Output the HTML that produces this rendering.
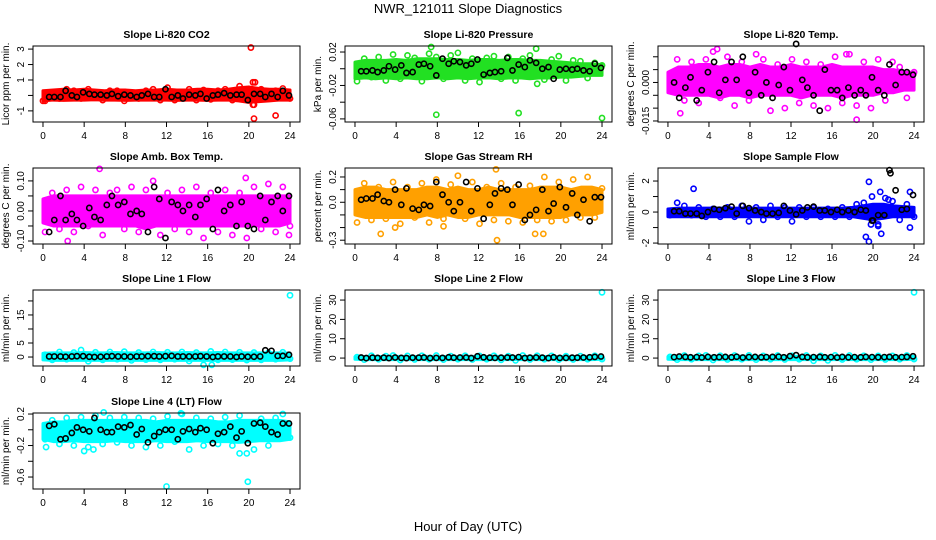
<!DOCTYPE html>
<html><head><meta charset="utf-8"><style>
body{margin:0;background:#fff;}
svg{display:block;font-family:"Liberation Sans",Arial,sans-serif;}
</style></head><body>
<svg id="chart" width="936" height="540" viewBox="0 0 936 540">
<rect width="936" height="540" fill="#fff"/>
<text x="468" y="13" font-size="13" text-anchor="middle">NWR_121011  Slope Diagnostics</text>
<text x="468" y="531" font-size="13" text-anchor="middle">Hour of Day (UTC)</text>
</svg>
<script>
const xTicks=[0,4,8,12,16,20,24];
const bandH=[0,1,2,3,4,5,6,7,8,9,10,11,12,13,14,15,16,17,18,19,20,21,22,23,24];
const colorH=[0.2,0.9,1.6,2.3,3.0,3.7,4.4,5.1,5.8,6.5,7.2,7.9,8.6,9.3,10.0,10.7,11.4,12.1,12.8,13.5,14.2,14.9,15.6,16.3,17.0,17.7,18.4,19.1,19.8,20.5,21.2,21.9,22.6,23.3,24.0];
const blackH=[0.6,1.1,1.7,2.2,2.8,3.3,3.9,4.5,5.0,5.6,6.2,6.7,7.3,7.9,8.5,9.1,9.6,10.2,10.8,11.3,11.9,12.5,13.1,13.6,14.2,14.8,15.3,15.9,16.5,17.0,17.6,18.2,18.8,19.3,19.9,20.5,21.1,21.6,22.2,22.8,23.3,23.9];

// P1 CO2
const co2Lo=[-0.35,-0.3,-0.32,-0.3,-0.3,-0.28,-0.3,-0.3,-0.32,-0.3,-0.3,-0.3,-0.3,-0.32,-0.3,-0.3,-0.32,-0.3,-0.3,-0.35,-0.45,-0.4,-0.35,-0.3,-0.3];
const co2Hi=[0.3,0.35,0.4,0.35,0.4,0.35,0.3,0.35,0.35,0.3,0.35,0.35,0.4,0.35,0.35,0.4,0.4,0.35,0.4,0.5,0.55,0.45,0.4,0.4,0.35];
const co2Pts=[-0.35,0.2,-0.2,0.4,0.3,-0.2,0.4,0.1,-0.3,0.3,0.3,-0.35,0.2,-0.2,0.3,0.4,-0.3,0.5,-0.3,0.2,0.4,-0.3,0.35,-0.25,0.3,0.4,-0.3,0.6,0.4,-0.6,0.4,-0.2,0.3,0.45,-0.2];
const co2Blk=[-0.1,-0.1,-0.1,0.3,0,-0.1,0.2,0.1,0.05,0.05,0,0.1,-0.05,0.05,0,-0.1,0,0.1,-0.1,-0.1,0.4,-0.1,0,-0.2,0.05,0,0.1,-0.2,0,0.05,0.15,0,0.05,0.05,-0.3,0.1,0.1,-0.1,0.1,-0.1,0.3,0];
const co2OutH=[20.2,20.4,20.6,20.5,22.6,20.4,0];
const co2OutV=[3.1,0.85,0.85,-1.5,-1.3,-0.6,-0.35];

// P2 Pressure
const prLo=[-0.012,-0.011,-0.012,-0.011,-0.012,-0.011,-0.012,-0.012,-0.011,-0.012,-0.011,-0.012,-0.011,-0.011,-0.012,-0.011,-0.011,-0.012,-0.011,-0.011,-0.01,-0.01,-0.009,-0.008,-0.008];
const prHi=[0.008,0.01,0.01,0.01,0.011,0.01,0.012,0.012,0.012,0.011,0.011,0.01,0.011,0.011,0.01,0.011,0.011,0.01,0.01,0.009,0.008,0.007,0.006,0.006,0.005];
const prPts=[-0.015,0.012,-0.01,0.014,-0.014,0.017,-0.012,0.016,0.013,-0.015,0.018,0.014,-0.012,0.016,0.019,-0.014,0.012,-0.016,0.013,0.015,-0.012,0.014,-0.014,0.012,0.016,-0.018,-0.013,0.011,0.015,-0.014,0.01,0.009,-0.011,0.007,0.004];
const prBlk=[-0.003,-0.003,-0.002,-0.004,-0.002,0.003,-0.001,0.004,-0.005,-0.004,0.005,0.006,0.003,-0.008,0.012,0.006,0.009,0.008,0.004,0.006,0.011,-0.007,-0.005,-0.004,-0.003,0.013,-0.002,0.005,0.002,0.01,0.007,0.0,0.002,-0.012,-0.001,0.0,-0.001,0.0,-0.002,-0.003,0.006,0.001];
const prOutH=[7.9,15.9,24,7.4,17.6];
const prOutV=[-0.055,-0.053,-0.059,0.026,0.024];

// P3 Li-820 Temp
const tpLo=[-0.004,-0.005,-0.005,-0.005,-0.005,-0.006,-0.005,-0.005,-0.006,-0.005,-0.005,-0.005,-0.005,-0.006,-0.005,-0.005,-0.005,-0.006,-0.005,-0.005,-0.005,-0.004,-0.004,-0.003,-0.003];
const tpHi=[0.004,0.006,0.006,0.007,0.007,0.006,0.007,0.007,0.006,0.007,0.006,0.006,0.007,0.006,0.006,0.006,0.007,0.006,0.006,0.006,0.006,0.005,0.005,0.004,0.004];
const tpPts=[-0.002,0.009,-0.007,0.008,-0.008,0.009,0.012,-0.006,0.01,-0.009,0.008,-0.007,0.011,0.009,-0.011,0.007,-0.01,0.009,-0.008,0.008,-0.009,0.007,-0.01,0.01,-0.008,0.011,-0.009,0.008,-0.01,0.009,-0.007,0.008,0.006,-0.006,0.004];
const tpBlk=[0.0,-0.006,-0.002,0.002,-0.007,-0.003,0.004,0.008,-0.004,0.001,0.008,0.001,0.01,-0.004,0.004,-0.005,0.0,-0.006,-0.001,0.006,-0.003,0.015,0.001,-0.002,-0.005,-0.011,0.005,-0.003,-0.003,-0.006,-0.002,-0.005,-0.003,-0.005,0.002,-0.003,-0.005,0.007,-0.001,0.004,0.004,0.003];
const tpOutH=[18.4,1.2,4.8,17.4];
const tpOutV=[-0.0145,-0.012,0.013,0.011];

// P4 Amb Box Temp
const abLo=[-0.04,-0.05,-0.05,-0.05,-0.05,-0.05,-0.05,-0.05,-0.05,-0.05,-0.06,-0.05,-0.05,-0.05,-0.05,-0.05,-0.05,-0.05,-0.05,-0.05,-0.05,-0.05,-0.05,-0.05,-0.04];
const abHi=[0.04,0.05,0.05,0.05,0.05,0.05,0.05,0.05,0.05,0.05,0.05,0.05,0.05,0.05,0.05,0.05,0.05,0.05,0.05,0.05,0.05,0.05,0.05,0.05,0.05];
const abPts=[-0.07,0.06,-0.06,0.07,-0.07,0.08,-0.05,0.07,-0.08,0.06,0.07,-0.06,0.08,-0.07,0.07,0.1,-0.08,0.06,-0.06,0.07,-0.07,0.08,-0.09,0.06,-0.07,0.07,-0.08,0.06,-0.09,0.08,-0.06,0.09,-0.07,0.08,-0.05];
const abBlk=[-0.07,-0.03,0.05,-0.03,-0.01,-0.03,-0.05,0.01,-0.02,-0.03,0.02,0.05,0.02,0.03,-0.01,0.0,-0.01,-0.07,0.08,0.04,-0.09,0.03,0.02,0.0,0.02,-0.02,0.02,0.04,-0.06,0.07,0.0,0.02,-0.05,0.03,-0.05,-0.06,0.05,-0.03,0.03,0.05,0.0,0.05];
const abOutH=[5.5,2.4,19.7,23.9];
const abOutV=[0.14,-0.1,0.11,-0.08];

// P5 Gas Stream RH
const rhLo=[-0.1,-0.12,-0.12,-0.12,-0.12,-0.12,-0.12,-0.1,-0.12,-0.1,-0.12,-0.12,-0.1,-0.1,-0.1,-0.1,-0.12,-0.12,-0.12,-0.12,-0.12,-0.1,-0.1,-0.1,-0.08];
const rhHi=[0.1,0.12,0.12,0.1,0.1,0.1,0.1,0.12,0.12,0.1,0.12,0.1,0.1,0.12,0.1,0.1,0.1,0.1,0.12,0.12,0.12,0.1,0.12,0.12,0.1];
const rhPts=[-0.16,0.15,-0.14,0.12,-0.13,0.16,-0.17,0.12,-0.12,0.15,-0.16,0.18,-0.13,0.14,0.21,-0.13,0.16,-0.17,0.12,-0.14,0.15,-0.15,0.12,-0.16,0.13,-0.14,0.2,-0.15,0.16,-0.14,0.18,-0.12,0.2,-0.12,0.11];
const rhBlk=[0.02,0.03,0.03,0.06,0.01,0.0,0.1,-0.02,0.11,-0.05,-0.06,-0.02,-0.03,0.16,0.06,0.0,-0.07,0.0,0.16,-0.07,0.11,-0.13,-0.02,0.07,0.11,0.1,-0.02,0.14,-0.14,-0.1,-0.06,0.1,-0.07,-0.01,0.12,-0.04,0.07,-0.1,0.02,-0.15,0.04,0.04];
const rhOutH=[13.7,13.8,2.5,17.5,18.3,3.9,8.6];
const rhOutV=[0.26,-0.3,-0.25,-0.25,-0.25,-0.2,-0.19];

// P6 Sample Flow
const sfLo=[-0.3,-0.3,-0.3,-0.3,-0.3,-0.3,-0.3,-0.3,-0.3,-0.3,-0.3,-0.3,-0.3,-0.3,-0.3,-0.3,-0.3,-0.3,-0.3,-0.4,-0.5,-0.4,-0.3,-0.3,-0.3];
const sfHi=[0.2,0.25,0.25,0.25,0.25,0.25,0.25,0.25,0.25,0.25,0.25,0.25,0.25,0.25,0.25,0.25,0.25,0.25,0.3,0.4,0.5,0.5,0.4,0.35,0.3];
const sfPts=[-0.2,0.6,0.4,-0.2,0.3,-0.3,0.2,-0.3,0.3,-0.3,0.4,-0.6,0.3,-0.5,0.4,-0.3,0.3,-0.6,0.3,-0.3,0.3,-0.3,0.2,-0.3,0.3,-0.3,0.5,0.6,-0.8,-0.8,0.9,0.7,-0.5,0.5,-0.3];
const sfBlk=[0.05,0.05,-0.1,-0.1,-0.1,-0.25,0.0,0.2,0.15,0.25,0.35,-0.1,0.4,0.25,0.1,0.0,-0.1,-0.1,-0.05,0.4,0.1,-0.15,0.1,0.3,0.35,0.1,0.1,0.0,0.15,0.0,0.1,0.0,0.15,0.1,-0.55,-0.2,-0.2,2.7,1.4,0.15,0.2,1.1];
const sfOutH=[2.5,19.6,19.3,19.6,20.8,20.5,20.7,23.6,23.6,19.9,21.5,21.7,20.0];
const sfOutV=[1.5,1.95,-1.6,-1.9,-1.4,-0.9,1.3,1.3,-1.0,1.0,0.8,2.5,-0.55];

// P7 Line 1 Flow
const l1Lo=[-1.0,-1.2,-1.2,-1.2,-1.2,-1.2,-1.2,-1.2,-1.2,-1.2,-1.2,-1.2,-1.2,-1.2,-1.2,-1.2,-1.2,-1.2,-1.2,-1.2,-1.2,-1.2,-1.2,-1.2,-1.0];
const l1Hi=[1.3,1.5,1.5,1.5,1.6,1.5,1.5,1.6,1.5,1.5,1.5,1.6,1.5,1.5,1.6,1.5,1.5,1.6,1.5,1.5,1.5,1.5,1.5,1.5,1.4];
const l1Pts=[0.8,-1.0,1.8,-0.8,1.6,2.5,-1.5,1.7,-1.0,1.8,-0.8,1.9,-1.2,1.6,-0.9,1.8,-1.0,1.7,-0.8,1.8,-1.4,1.6,-2.8,2.0,-1.0,1.8,-0.9,1.7,-1.1,1.6,-1.0,1.5,-0.8,1.7,-0.6];
const l1Blk=[0.2,0.2,0.2,0.1,0.2,0.3,0.3,0.1,0.0,0.1,0.2,0.3,0.2,0.2,0.1,0.2,0.2,0.3,0.3,0.2,0.3,0.4,0.2,0.2,0.2,0.2,0.3,0.2,0.0,0.2,0.2,0.2,0.0,0.2,0.1,0.1,0.2,2.4,2.2,0.4,0.4,0.8];
const l1OutH=[24,16.4];
const l1OutV=[22,-2.8];

// P8 Line 2 Flow
const l2Lo=[-0.6,-0.8,-0.8,-0.8,-0.8,-0.8,-0.8,-0.8,-0.8,-0.8,-0.8,-0.8,-0.8,-0.8,-0.8,-0.8,-0.8,-0.8,-0.8,-0.8,-0.8,-0.8,-0.8,-0.8,-0.6];
const l2Hi=[0.6,0.8,0.8,0.8,0.9,0.8,0.8,0.9,0.8,0.8,0.8,0.9,0.8,0.8,0.9,0.8,0.8,0.9,0.8,0.8,0.8,0.8,0.8,0.9,0.8];
const l2Pts=[0.5,-0.8,1.2,-0.6,1.0,1.3,-1.0,1.1,-0.7,1.2,-0.6,1.3,-0.8,1.0,-0.6,1.2,-0.7,1.1,-0.6,1.2,-0.9,1.0,-1.2,1.3,-0.7,1.2,-0.6,1.1,-0.8,1.0,-0.7,1.0,-0.6,1.2,-0.5];
const l2Blk=[0.3,0.0,0.2,0.1,0.2,0.0,0.3,0.1,0.0,0.2,0.2,0.3,0.0,0.1,0.1,0.4,0.2,0.3,0.3,0.0,0.9,0.4,0.2,0.1,0.2,0.3,0.3,0.5,0.0,0.2,0.3,0.2,0.0,0.4,0.1,0.1,0.2,0.2,0.3,0.4,0.6,0.8];
const l2OutH=[24];
const l2OutV=[34];

// P9 Line 3 Flow
const l3Lo=[-0.6,-0.8,-0.8,-0.8,-0.8,-0.8,-0.8,-0.8,-0.8,-0.8,-0.8,-0.8,-0.8,-0.8,-0.8,-0.8,-0.8,-0.8,-0.8,-0.8,-0.8,-0.8,-0.8,-0.8,-0.6];
const l3Hi=[0.7,0.9,0.9,0.9,1.0,0.9,0.9,1.0,0.9,0.9,0.9,1.0,0.9,0.9,1.0,0.9,0.9,1.0,0.9,0.9,0.9,0.9,0.9,1.0,0.9];
const l3Pts=[0.6,-0.8,1.3,-0.6,1.1,1.4,-1.0,1.2,-0.7,1.3,-0.6,1.4,-0.8,1.1,-0.6,1.3,-0.7,1.2,-0.6,1.3,-1.4,1.1,-1.2,1.4,-0.7,1.3,-0.6,1.2,-0.8,1.1,-0.7,1.1,-0.6,1.3,-0.5];
const l3Blk=[0.5,0.8,0.6,0.4,0.5,0.3,0.6,0.4,0.5,0.6,0.4,0.7,0.3,0.5,0.6,0.4,0.5,0.6,0.7,0.4,1.0,1.5,0.6,0.4,0.5,0.6,0.4,0.5,0.3,0.6,0.4,0.5,0.4,0.6,0.5,0.4,0.5,0.6,0.4,0.5,0.6,0.9];
const l3OutH=[24];
const l3OutV=[34];

// P10 Line 4 Flow
const l4Lo=[-0.12,-0.15,-0.15,-0.14,-0.15,-0.15,-0.15,-0.14,-0.15,-0.15,-0.15,-0.14,-0.15,-0.15,-0.15,-0.14,-0.15,-0.15,-0.15,-0.16,-0.15,-0.14,-0.14,-0.14,-0.12];
const l4Hi=[0.08,0.1,0.1,0.12,0.12,0.12,0.12,0.12,0.12,0.12,0.12,0.1,0.12,0.12,0.12,0.12,0.12,0.1,0.1,0.12,0.12,0.12,0.12,0.12,0.1];
const l4Pts=[-0.12,0.12,-0.18,0.15,-0.2,0.16,-0.22,0.18,-0.18,0.15,-0.16,0.16,-0.2,0.15,-0.22,0.14,-0.2,0.17,-0.15,0.2,-0.25,0.15,-0.2,0.14,-0.18,0.16,-0.2,0.18,-0.3,-0.25,0.14,-0.2,0.15,0.2,-0.1];
const l4Blk=[0.05,0.07,-0.12,-0.11,-0.04,0.03,0.0,-0.02,0.15,0.0,-0.03,-0.03,0.04,0.03,0.06,-0.06,0.01,-0.16,-0.08,-0.03,0.0,0.0,-0.12,-0.02,0.01,-0.03,0.02,0.0,-0.17,-0.05,-0.03,0.04,-0.1,-0.02,-0.17,0.08,0.09,0.04,-0.03,-0.06,0.08,0.08];
const l4OutH=[12,19.9,4,0.3,5.9,13.4,4.9,19.1];
const l4OutV=[-0.72,-0.66,-0.27,-0.22,0.22,0.21,-0.25,-0.3];

const NS='http://www.w3.org/2000/svg';
const svg=document.getElementById('chart');
function mk(tag,attrs,parent){const e=document.createElementNS(NS,tag);for(const k in attrs)e.setAttribute(k,attrs[k]);(parent||svg).appendChild(e);return e;}

function panel(o){
  const g=mk('g',{});
  
  
  const x0=o.box[0],x1=o.box[1],y0=o.box[2],y1=o.box[3];
  const xs=v=>x0+(v-(-0.97))/(24.97-(-0.97))*(x1-x0);
  const ys=v=>y1-(v-o.ylim[0])/(o.ylim[1]-o.ylim[0])*(y1-y0);
  const t=mk('text',{x:(x0+x1)/2,y:y0-8,'font-size':10.5,'font-weight':'bold','text-anchor':'middle'},g);
  t.textContent=o.title;
  
  
  let pts=[];
  bandH.forEach((h,i)=>pts.push(xs(h)+','+ys(o.hi[i])));
  for(let i=bandH.length-1;i>=0;i--)pts.push(xs(bandH[i])+','+ys(o.lo[i]));
  const band=mk('polygon',{points:pts.join(' '),fill:o.color,stroke:o.color,'stroke-width':3,'stroke-linejoin':'round'},g);
  
  
  const dot=(h,v,c,nm)=>{const e=mk('circle',{cx:xs(h),cy:ys(v),r:2.6,fill:'none',stroke:c,'stroke-width':1.6},g);
    
    };
  colorH.forEach((h,i)=>dot(h,o.pts[i],o.color,'slope-point'));
  o.outH.forEach((h,i)=>dot(h,o.outV[i],o.outBlack&&o.outBlack[i]?'#000':o.color,'outlier-point'));
  blackH.forEach((h,i)=>dot(h,o.blk[i],'#000','hourly-mean-point'));
  const b=mk('rect',{x:x0,y:y0,width:x1-x0,height:y1-y0,fill:'none',stroke:'#000','stroke-width':1},g);
  
  
  xTicks.forEach(v=>{
    mk('line',{x1:xs(v),x2:xs(v),y1:y1,y2:y1+5,stroke:'#000'},g);
    const tl=mk('text',{x:xs(v),y:y1+17,'font-size':10,'text-anchor':'middle'},g);
    tl.textContent=v;
    
    
  });
  mk('line',{x1:xs(0),x2:xs(24),y1:y1,y2:y1,stroke:'#000'},g);
  o.yticks.forEach(v=>{
    mk('line',{x1:x0-5,x2:x0,y1:ys(v),y2:ys(v),stroke:'#000'},g);
  });
  o.ylabels.forEach(v=>{
    const yy=ys(v),xx=x0-9;
    const tl=mk('text',{x:xx,y:yy,'font-size':10,'text-anchor':'middle',transform:`rotate(-90 ${xx} ${yy})`},g);
    tl.textContent=o.fmt?o.fmt(v):v;
    
    
  });
  const yt=mk('text',{x:x0-24,y:(y0+y1)/2,'font-size':10,'text-anchor':'middle',transform:`rotate(-90 ${x0-24} ${(y0+y1)/2})`},g);
  yt.textContent=o.ylab;
  
  
}
const C1=[33,300],C2=[345,612],C3=[658,924];
const R1=[46,122],R2=[168,244],R3=[290,366],R4=[413,489];
const f2=v=>v.toFixed(2),f3=v=>v.toFixed(3),f1=v=>v.toFixed(1);
panel({name:'panel-co2',box:[...C1,...R1],ylim:[-1.72,3.2],yticks:[-1,0,1,2,3],ylabels:[-1,1,2,3],title:'Slope Li-820 CO2',ylab:'Licor ppm per min.',color:'#ff0000',lo:co2Lo,hi:co2Hi,pts:co2Pts,blk:co2Blk,outH:co2OutH,outV:co2OutV});
panel({name:'panel-pressure',box:[...C2,...R1],ylim:[-0.0637,0.0272],yticks:[-0.06,-0.04,-0.02,0,0.02],ylabels:[-0.06,-0.02,0.02],fmt:f2,title:'Slope Li-820 Pressure',ylab:'kPa per min.',color:'#22e022',lo:prLo,hi:prHi,pts:prPts,blk:prBlk,outH:prOutH,outV:prOutV});
panel({name:'panel-li820-temp',box:[...C3,...R1],ylim:[-0.0154,0.0142],yticks:[-0.015,-0.01,-0.005,0,0.005,0.01],ylabels:[-0.015,0],fmt:f3,title:'Slope Li-820 Temp.',ylab:'degrees C per min.',color:'#ff00ff',lo:tpLo,hi:tpHi,pts:tpPts,blk:tpBlk,outH:tpOutH,outV:tpOutV});
panel({name:'panel-amb-box-temp',box:[...C1,...R2],ylim:[-0.11,0.143],yticks:[-0.1,-0.05,0,0.05,0.1],ylabels:[-0.1,0,0.1],fmt:f2,title:'Slope Amb. Box Temp.',ylab:'degrees C per min.',color:'#ff00ff',lo:abLo,hi:abHi,pts:abPts,blk:abBlk,outH:abOutH,outV:abOutV});
panel({name:'panel-gas-stream-rh',box:[...C2,...R2],ylim:[-0.33,0.271],yticks:[-0.3,-0.2,-0.1,0,0.1,0.2],ylabels:[-0.3,0,0.2],fmt:f1,title:'Slope Gas Stream RH',ylab:'percent per min.',color:'#ffa000',lo:rhLo,hi:rhHi,pts:rhPts,blk:rhBlk,outH:rhOutH,outV:rhOutV});
panel({name:'panel-sample-flow',box:[...C3,...R2],ylim:[-2.06,2.84],yticks:[-2,-1,0,1,2],ylabels:[-2,0,2],title:'Slope Sample Flow',ylab:'ml/min per min.',color:'#0000ff',lo:sfLo,hi:sfHi,pts:sfPts,blk:sfBlk,outH:sfOutH,outV:sfOutV,outBlack:[0,0,0,0,0,0,0,0,0,0,0,1,1]});
panel({name:'panel-line1-flow',box:[...C1,...R3],ylim:[-3.2,23.9],yticks:[0,5,10,15,20],ylabels:[0,5,15],title:'Slope Line 1 Flow',ylab:'ml/min per min.',color:'#00ffff',lo:l1Lo,hi:l1Hi,pts:l1Pts,blk:l1Blk,outH:l1OutH,outV:l1OutV});
panel({name:'panel-line2-flow',box:[...C2,...R3],ylim:[-4.1,35.2],yticks:[0,10,20,30],ylabels:[0,10,20,30],title:'Slope Line 2 Flow',ylab:'ml/min per min.',color:'#00ffff',lo:l2Lo,hi:l2Hi,pts:l2Pts,blk:l2Blk,outH:l2OutH,outV:l2OutV});
panel({name:'panel-line3-flow',box:[...C3,...R3],ylim:[-4.1,35.2],yticks:[0,10,20,30],ylabels:[0,10,20,30],title:'Slope Line 3 Flow',ylab:'ml/min per min.',color:'#00ffff',lo:l3Lo,hi:l3Hi,pts:l3Pts,blk:l3Blk,outH:l3OutH,outV:l3OutV});
panel({name:'panel-line4-flow',box:[...C1,...R4],ylim:[-0.752,0.213],yticks:[-0.6,-0.4,-0.2,0,0.2],ylabels:[-0.6,-0.2,0.2],fmt:f1,title:'Slope Line 4 (LT) Flow',ylab:'ml/min per min.',color:'#00ffff',lo:l4Lo,hi:l4Hi,pts:l4Pts,blk:l4Blk,outH:l4OutH,outV:l4OutV});
</script>
</body></html>
